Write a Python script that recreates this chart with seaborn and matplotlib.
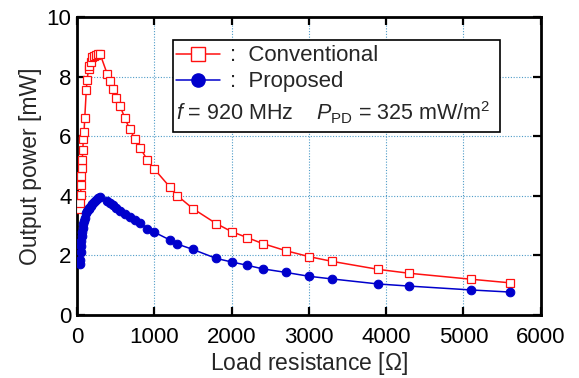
import numpy as np
import pandas as pd
import matplotlib
matplotlib.use("Agg")
import matplotlib.pyplot as plt
from matplotlib.patches import Rectangle
from matplotlib.lines import Line2D
import seaborn as sns

# Load resistance [ohm] (same sweep for both circuits)
load_resistance = [39, 43, 47, 51, 56, 62, 68, 75, 82, 91, 100, 120, 130, 150, 160,
                   180, 200, 220, 240, 270, 300, 390, 430, 470, 510, 560, 620, 680,
                   750, 820, 910, 1000, 1200, 1300, 1500, 1800, 2000, 2200, 2400,
                   2700, 3000, 3300, 3900, 4300, 5100, 5600]

# Output power [mW]
conventional = [3.55, 3.75, 4.02, 4.35, 4.65, 4.95, 5.2, 5.55, 5.9, 6.15, 6.6, 7.55,
                7.9, 8.25, 8.35, 8.5, 8.65, 8.7, 8.72, 8.75, 8.75, 8.1, 7.85, 7.6,
                7.3, 7.0, 6.6, 6.25, 5.9, 5.6, 5.2, 4.9, 4.3, 4.0, 3.57, 3.07, 2.8,
                2.6, 2.4, 2.16, 1.96, 1.8, 1.53, 1.4, 1.2, 1.08]
proposed = [1.72, 1.85, 2.1, 2.3, 2.5, 2.65, 2.8, 2.92, 3.05, 3.15, 3.25, 3.42, 3.5,
            3.56, 3.6, 3.66, 3.73, 3.8, 3.86, 3.92, 3.95, 3.84, 3.77, 3.68, 3.6,
            3.5, 3.4, 3.3, 3.18, 3.08, 2.9, 2.78, 2.52, 2.38, 2.2, 1.9, 1.78, 1.67,
            1.55, 1.43, 1.3, 1.21, 1.04, 0.97, 0.84, 0.77]

RED = "#ff1010"
BLUE = "#0000cc"
GRID = "#4f9cc8"

sns.set_theme(style="ticks")
plt.rcParams["font.family"] = ["Liberation Sans", "DejaVu Sans"]
plt.rcParams["mathtext.fontset"] = "custom"
plt.rcParams["mathtext.rm"] = "Liberation Sans"
plt.rcParams["mathtext.it"] = "Liberation Sans:italic"

df = pd.DataFrame({"R": load_resistance, "conv": conventional, "prop": proposed})

fig = plt.figure(figsize=(5.79, 3.78), dpi=100)
ax = fig.add_axes([0.133, 0.1667, 0.801, 0.788])

sns.lineplot(data=df, x="R", y="conv", ax=ax, sort=False, estimator=None,
             color=RED, linewidth=1.1, marker="s", markersize=5.8,
             markerfacecolor="white", markeredgecolor=RED, markeredgewidth=0.9,
             zorder=3)
sns.lineplot(data=df, x="R", y="prop", ax=ax, sort=False, estimator=None,
             color=BLUE, linewidth=1.1, marker="o", markersize=6.2,
             markerfacecolor=BLUE, markeredgecolor=BLUE, zorder=3)

ax.set_xlim(0, 6000)
ax.set_ylim(0, 10)
ax.set_xticks(range(0, 6001, 1000))
ax.set_yticks(range(0, 11, 2))
ax.grid(True, linestyle=(0, (1, 1.5)), color=GRID, linewidth=0.8, zorder=0)
ax.tick_params(direction="in", length=6, width=1.6, top=True, right=True,
               labelsize=16, colors="black")
ax.tick_params(axis="x", pad=9)
ax.tick_params(axis="y", pad=4)
for s in ax.spines.values():
    s.set_linewidth(2)
    s.set_color("black")

ax.set_xlabel("Load resistance [$\\Omega$]", fontsize=16.5, labelpad=1)
ax.set_ylabel("Output power [mW]", fontsize=16.5, labelpad=3)

# legend box with condition text
ax.add_patch(Rectangle((0.206, 0.615), 0.707, 0.308, transform=ax.transAxes,
                       facecolor="white", edgecolor="black", linewidth=1.2, zorder=5))
handles = [Line2D([], [], color=RED, linewidth=1.1, marker="s", markersize=10,
                  markerfacecolor="white", markeredgecolor=RED),
           Line2D([], [], color=BLUE, linewidth=1.1, marker="o", markersize=9.5,
                  markerfacecolor=BLUE, markeredgecolor=BLUE)]
leg = ax.legend(handles, [":  Conventional", ":  Proposed"], loc="upper left",
                bbox_to_anchor=(0.213, 0.905), frameon=False, fontsize=16,
                handlelength=2.0, handletextpad=0.45, labelspacing=0.22,
                borderaxespad=0, borderpad=0)
leg.set_zorder(6)
ax.text(0.214, 0.68, "$f$ = 920 MHz    $P_{\\mathrm{PD}}$ = 325 mW/m$^2$",
        transform=ax.transAxes, fontsize=15.5, va="center", ha="left", zorder=7)

fig.savefig("out.png", dpi=100)
